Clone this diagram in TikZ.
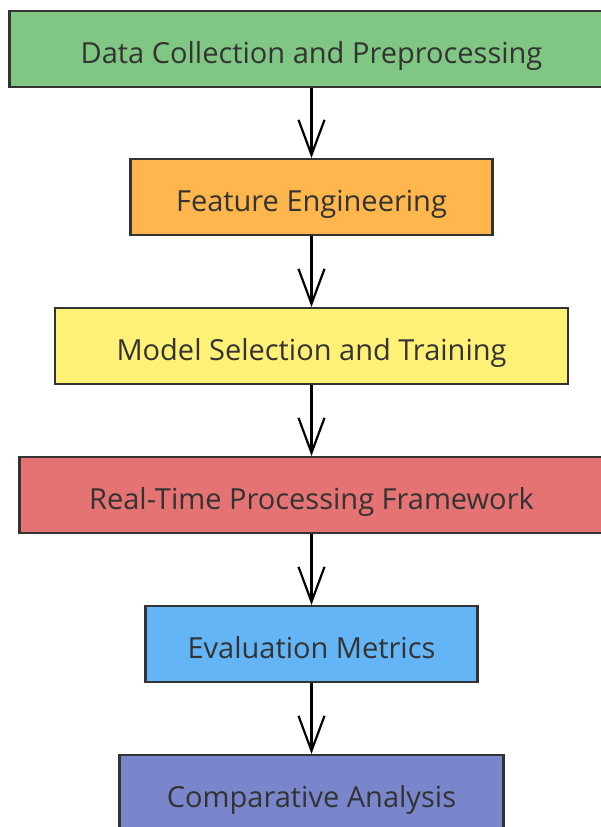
\documentclass[tikz,border=0pt]{standalone}
\usepackage{fontspec}
\setmainfont{Open Sans}
\usetikzlibrary{arrows.meta}
\definecolor{cgreen}{HTML}{81C784}
\definecolor{corange}{HTML}{FFB74D}
\definecolor{cyellow}{HTML}{FFF176}
\definecolor{cred}{HTML}{E57373}
\definecolor{cblue}{HTML}{64B5F6}
\definecolor{cindigo}{HTML}{7986CB}
\definecolor{ctext}{HTML}{333333}
\definecolor{cborder}{HTML}{333333}
\begin{document}
\begin{tikzpicture}[x=1pt,y=-1pt,
  stagebox/.style={draw=cborder, line width=2.2pt, minimum height=76pt, inner sep=0pt,
    text height=28pt, text depth=0pt,
    text=ctext, font=\fontsize{29}{34}\selectfont, anchor=north},
  flow/.style={draw=black, line width=2.2pt, -{Straight Barb[length=35pt,width=26pt,line width=2.2pt]}}]
\useasboundingbox (0,0) rectangle (601,827);
\clip (0,0) rectangle (601,827);
\node[stagebox, fill=cgreen, minimum width=604pt] (a) at (311.5,10) {Data Collection and Preprocessing};
\node[stagebox, fill=corange, minimum width=362pt] (b) at (311.5,158) {Feature Engineering};
\node[stagebox, fill=cyellow, minimum width=513pt] (c) at (311.5,307) {Model Selection and Training};
\node[stagebox, fill=cred, minimum width=584pt] (d) at (311.5,456) {Real-Time Processing Framework};
\node[stagebox, fill=cblue, minimum width=332pt] (e) at (311.5,605) {Evaluation Metrics};
\node[stagebox, fill=cindigo, minimum width=384pt] (f) at (311.5,754) {Comparative Analysis};
\draw[flow] (a.south) -- (b.north);
\draw[flow] (b.south) -- (c.north);
\draw[flow] (c.south) -- (d.north);
\draw[flow] (d.south) -- (e.north);
\draw[flow] (e.south) -- (f.north);
\end{tikzpicture}
\end{document}
